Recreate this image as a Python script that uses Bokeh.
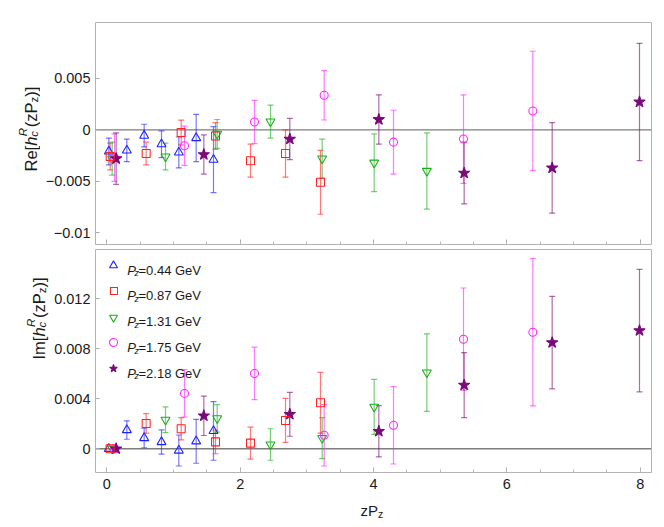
import numpy as np
from bokeh.plotting import figure
from bokeh.models import (ColumnDataSource, Whisker, TeeHead, Span, Label, Legend, LegendItem,
                          FixedTicker, CustomJSTickFormatter, Range1d)
from bokeh.layouts import column, row
from bokeh.embed import file_html
from bokeh.resources import INLINE

# ---------------- data ----------------
pz_labels = ["0.44", "0.87", "1.31", "1.75", "2.18"]

blue_x = [0.03, 0.30, 0.56, 0.82, 1.08, 1.34, 1.60]
red_x = [0.05, 0.59, 1.115, 1.63, 2.155, 2.68, 3.205]
green_x = [0.08, 0.88, 1.655, 2.455, 3.23, 4.01, 4.80]
mag_x = [0.115, 1.165, 2.215, 3.26, 4.30, 5.35, 6.39]
purple_x = [0.14, 1.455, 2.745, 4.08, 5.36, 6.68, 7.99]

blue_re = [-0.0021, -0.0020, -0.00056, -0.0014, -0.0022, -0.0008, -0.0029]
blue_re_err = [0.0013, 0.0011, 0.0011, 0.0013, 0.0015, 0.0023, 0.0032]
red_re = [-0.0026, -0.0023, -0.00026, -0.0006, -0.0030, -0.0023, -0.0051]
red_re_err = [0.0013, 0.0011, 0.0012, 0.0013, 0.0016, 0.0023, 0.0031]
green_re = [-0.0028, -0.0026, -0.0004, 0.0008, -0.0028, -0.0032, -0.0040]
green_re_err = [0.0016, 0.0013, 0.0014, 0.0016, 0.0019, 0.0028, 0.0037]
mag_re = [-0.0027, -0.00155, 0.00076, 0.00335, -0.0012, -0.0009, 0.00183]
mag_re_err = [0.0023, 0.0019, 0.0021, 0.0024, 0.0031, 0.0043, 0.0058]
purple_re = [-0.0028, -0.0024, -0.0009, 0.0010, -0.0042, -0.0037, 0.0027]
purple_re_err = [0.0025, 0.0019, 0.0020, 0.0024, 0.0030, 0.0044, 0.0057]

blue_im = [0.0, 0.0015, 0.00086, 0.00054, -0.00014, 0.0006, 0.00143]
blue_im_err = [0.0, 0.00074, 0.00078, 0.00097, 0.00124, 0.00176, 0.00235]
red_im = [0.0, 0.00203, 0.0016, 0.00055, 0.00045, 0.00227, 0.00368]
red_im_err = [0.0, 0.00078, 0.00089, 0.00095, 0.00128, 0.00176, 0.00243]
green_im = [0.0, 0.00232, 0.00243, 0.00034, 0.00085, 0.00335, 0.0061]
green_im_err = [0.0, 0.00103, 0.0011, 0.00126, 0.00164, 0.0022, 0.0031]
mag_im = [0.0, 0.00443, 0.00603, 0.00108, 0.00188, 0.00877, 0.00933]
mag_im_err = [0.0, 0.0019, 0.0021, 0.00246, 0.0031, 0.0041, 0.0059]
purple_im = [0.0, 0.00264, 0.00276, 0.0014, 0.0051, 0.0085, 0.00946]
purple_im_err = [0.0, 0.00158, 0.00176, 0.00205, 0.0026, 0.0037, 0.0049]

x_ticks = [0, 2, 4, 6, 8]
re_ticks = [-0.01, -0.005, 0, 0.005]
im_ticks = [0, 0.004, 0.008, 0.012]

# ---------------- styling ----------------
FONT = "Liberation Sans"
TXT = "#1a1a1a"
series = [
    dict(x=blue_x, re=blue_re, ree=blue_re_err, im=blue_im, ime=blue_im_err,
         color="#1f1fff", marker="triangle", size=9, filled=False, lab=pz_labels[0]),
    dict(x=red_x, re=red_re, ree=red_re_err, im=red_im, ime=red_im_err,
         color="#ff2020", marker="square", size=8, filled=False, lab=pz_labels[1]),
    dict(x=green_x, re=green_re, ree=green_re_err, im=green_im, ime=green_im_err,
         color="#15b015", marker="inverted_triangle", size=9, filled=False, lab=pz_labels[2]),
    dict(x=mag_x, re=mag_re, ree=mag_re_err, im=mag_im, ime=mag_im_err,
         color="#ff22ff", marker="circle", size=8, filled=False, lab=pz_labels[3]),
    dict(x=purple_x, re=purple_re, ree=purple_re_err, im=purple_im, ime=purple_im_err,
         color="#7a0a7a", marker="star", size=12, filled=True, lab=pz_labels[4]),
]

fmt = CustomJSTickFormatter(code="""
  if (Math.abs(tick) < 1e-12) return '0';
  const s = String(Math.round(tick*1e4)/1e4);
  return s.replace('-', '\\u2212');
""")

XR = (-0.17, 8.17)


def make_fig(width, height, ybounds, yticks, left, top, bottom, show_xlabels):
    p = figure(width=width, height=height, output_backend="svg", toolbar_location=None,
               x_range=Range1d(*XR), y_range=Range1d(*ybounds),
               min_border_left=left, min_border_right=5,
               min_border_top=top, min_border_bottom=bottom)
    p.xgrid.visible = False
    p.ygrid.visible = False
    p.outline_line_color = "#b3b3b3"
    p.outline_line_width = 1
    p.background_fill_color = "white"
    p.border_fill_color = "white"
    for ax in (p.xaxis[0], p.yaxis[0]):
        ax.axis_line_color = None
        ax.major_tick_line_color = "#a8a8a8"
        ax.minor_tick_line_color = "#b8b8b8"
        ax.major_tick_out = 0
        ax.minor_tick_out = 0
        ax.major_label_text_font = FONT
        ax.major_label_text_font_size = "14.5px"
        ax.major_label_text_color = TXT
    xa = p.xaxis[0]
    xa.ticker = FixedTicker(ticks=x_ticks, minor_ticks=[i * 0.5 for i in range(0, 17)])
    xa.major_tick_in = 5
    xa.minor_tick_in = 3
    if show_xlabels:
        xa.major_label_standoff = 6
    else:
        xa.formatter = CustomJSTickFormatter(code="return ''")
        xa.major_label_text_font_size = "0px"
        xa.major_label_standoff = 0
    ya = p.yaxis[0]
    ya.ticker = FixedTicker(ticks=yticks, minor_ticks=[])
    ya.major_tick_in = 4
    ya.formatter = fmt
    ya.major_label_standoff = 5
    p.add_layout(Span(location=0, dimension="width", line_color="#7d7d7d",
                      line_width=1.3, level="underlay"))
    return p


def blank(width, height):
    b = figure(width=width, height=height, output_backend="svg", toolbar_location=None,
               x_axis_location=None, y_axis_location=None,
               x_range=Range1d(0, 1), y_range=Range1d(0, 1),
               min_border_left=0, min_border_right=0, min_border_top=0, min_border_bottom=0)
    b.grid.visible = False
    b.outline_line_color = None
    b.background_fill_color = "white"
    b.border_fill_color = "white"
    return b


T1W, T2W = 40, 50
p1 = make_fig(656 - T1W, 246, (-0.01114, 0.01042), re_ticks, 95 - T1W, 22, 2, False)
p2 = make_fig(656 - T2W, 250, (-0.0019, 0.01595), im_ticks, 95 - T2W, 3, 24, True)
t1 = blank(T1W, 246)
t2 = blank(T2W, 250)
xt = blank(656, 26)

panels = ((p1, "re", "ree"), (p2, "im", "ime"))

# error bars first
for s in series:
    for p, key, ekey in panels:
        xs, ys, es = s["x"], s[key], s[ekey]
        keep = [i for i in range(len(xs)) if es[i] > 0]
        wsrc = ColumnDataSource(dict(
            x=[xs[i] for i in keep],
            lower=[ys[i] - es[i] for i in keep],
            upper=[ys[i] + es[i] for i in keep]))
        w = Whisker(source=wsrc, base="x", lower="lower", upper="upper", dimension="height",
                    line_color=s["color"], line_alpha=0.6, line_width=1.2, level="underlay",
                    upper_head=TeeHead(size=6, line_color=s["color"], line_alpha=0.6, line_width=1.2),
                    lower_head=TeeHead(size=6, line_color=s["color"], line_alpha=0.6, line_width=1.2))
        p.add_layout(w)

# markers (squares drawn last)
legend_renderers = {}
order = [0, 2, 3, 4, 1]
for k in order:
    s = series[k]
    for p, key, ekey in panels:
        src = ColumnDataSource(dict(x=s["x"], y=s[key]))
        if s["marker"] == "square":
            r = p.rect("x", "y", width=s["size"], height=s["size"], width_units="screen",
                       height_units="screen", source=src, line_color=s["color"],
                       line_width=1.05, fill_color=None)
        else:
            r = p.scatter("x", "y", source=src, marker=s["marker"], size=s["size"],
                          line_color=s["color"], line_width=1.05, line_alpha=1.0,
                          fill_color=s["color"] if s["filled"] else None,
                          fill_alpha=1.0 if s["filled"] else 0.0)
        if p is p2:
            legend_renderers[k] = r

# one small legend per entry (rows 25.8 px apart)
for i, s in enumerate(series):
    r = legend_renderers[i]
    gw = 9 if s["marker"] == "square" else 20
    cy = 207 - 25.8 * i
    lg = Legend(items=[LegendItem(label=" ", renderers=[r])],
                location=(18 - gw / 2, cy - gw / 2), padding=0, margin=0, spacing=0,
                glyph_width=gw, glyph_height=gw, label_height=gw, label_width=1,
                border_line_color=None, background_fill_alpha=0.0,
                label_text_font_size="1px", label_standoff=0)
    p2.add_layout(lg)


def txt(p, x, y, s, size, style="normal", angle=0.0):
    p.add_layout(Label(x=x, y=y, x_units="screen", y_units="screen", text=s,
                       text_font=FONT, text_font_size=f"{size}px", text_font_style=style,
                       text_color=TXT, angle=angle, text_align="left",
                       text_baseline="alphabetic"))


# legend texts
for i, s in enumerate(series):
    yb = 202.5 - i * 25.8
    txt(p2, 31.7, yb, "P", 13, "italic")
    txt(p2, 39.0, yb - 3.2, "z", 9, "italic")
    txt(p2, 43.0, yb, "=" + s["lab"] + " GeV", 13)

# x axis title: zP_z
txt(xt, 360, 12, "zP", 15)
txt(xt, 377.5, 8.5, "z", 10.5)


# y axis titles (rotated)
def ytitle(p, bx, y0, head):
    F, f = 16.5, 11.5
    a = np.pi / 2
    w_head = {"Re[": 1.556, "Im[": 1.389}[head] * F
    txt(p, bx, y0, head, F, "normal", a)
    y = y0 + w_head
    txt(p, bx, y, "h", F, "italic", a)
    y += 0.556 * F
    txt(p, bx - 0.45 * F, y + 0.5, "R", f, "italic", a)
    txt(p, bx + 0.22 * F, y, "c", f, "italic", a)
    y += 0.722 * f + 1
    txt(p, bx, y, "(zP", F, "normal", a)
    y += 1.5 * F
    txt(p, bx + 0.22 * F, y, "z", f, "normal", a)
    y += 0.5 * f
    txt(p, bx, y, ")]", F, "normal", a)


ytitle(t1, 30, 73, "Re[")
ytitle(t2, 38, 113, "Im[")

layout = column(row(t1, p1, spacing=0), row(t2, p2, spacing=0), xt, spacing=0)
open("out.html", "w").write(file_html(layout, INLINE))
